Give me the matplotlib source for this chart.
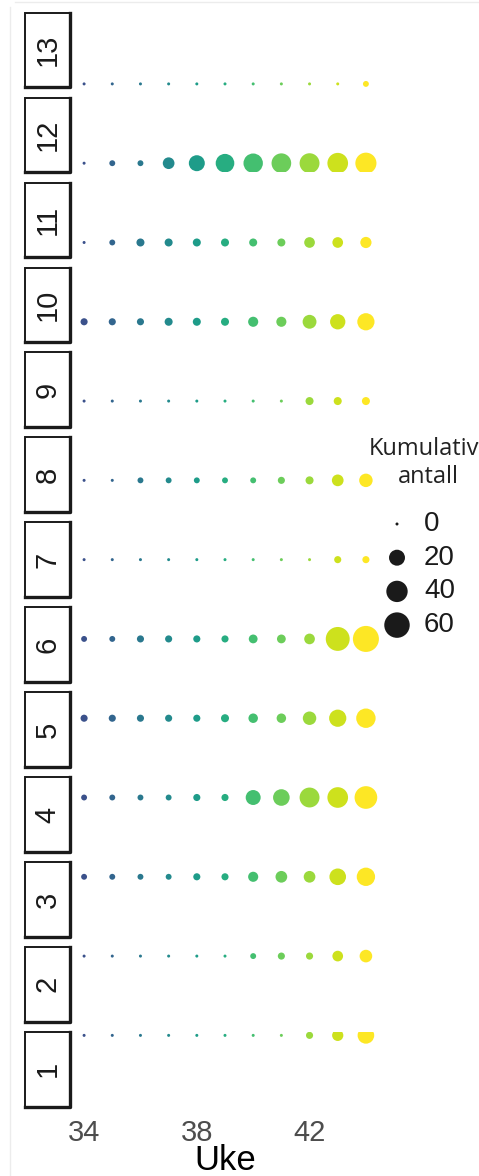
"""Cumulative count per region and week, one facet row per region."""

import matplotlib
matplotlib.use("Agg")
import matplotlib.pyplot as plt
import numpy as np
from matplotlib.colors import Normalize
from matplotlib.lines import Line2D
from matplotlib.patches import Rectangle

# ---- data ----------------------------------------------------------------
weeks = [34, 35, 36, 37, 38, 39, 40, 41, 42, 43, 44]
regions = [13, 12, 11, 10, 9, 8, 7, 6, 5, 4, 3, 2, 1]

cum_13 = [0, 0, 0, 0, 0, 0, 0, 0, 0, 0, 1]
cum_12 = [0, 1, 1, 9, 20, 29, 32, 33, 34, 37, 39]
cum_11 = [0, 1, 3, 3, 3, 3, 3, 3, 7, 7, 8]
cum_10 = [2, 2, 2, 3, 3, 3, 6, 6, 14, 18, 24]
cum_9 = [0, 0, 0, 0, 0, 0, 0, 0, 3, 3, 3]
cum_8 = [0, 0, 1, 1, 1, 1, 1, 2, 3, 9, 13]
cum_7 = [0, 0, 0, 0, 0, 0, 0, 0, 0, 2, 2]
cum_6 = [1, 1, 2, 2, 2, 2, 4, 4, 7, 52, 63]
cum_5 = [2, 2, 2, 2, 2, 3, 5, 5, 13, 24, 32]
cum_4 = [1, 1, 1, 1, 2, 2, 17, 22, 34, 37, 46]
cum_3 = [1, 1, 1, 1, 2, 2, 6, 9, 9, 22, 28]
cum_2 = [0, 0, 0, 0, 0, 0, 1, 2, 2, 7, 11]
cum_1 = [0, 0, 0, 0, 0, 0, 0, 0, 2, 8, 22]

cum_by_region = {13: cum_13, 12: cum_12, 11: cum_11, 10: cum_10, 9: cum_9,
                 8: cum_8, 7: cum_7, 6: cum_6, 5: cum_5, 4: cum_4, 3: cum_3,
                 2: cum_2, 1: cum_1}

x_ticks = [34, 38, 42]
size_breaks = [0, 20, 40, 60]
legend_title = "Kumulativt\nantall"
x_title = "Uke"

# ---- style ---------------------------------------------------------------
W, H, DPI = 479, 1176, 100
plt.rcParams["font.family"] = ["Liberation Sans", "DejaVu Sans"]
cmap = plt.get_cmap("viridis")
norm = Normalize(vmin=30.7, vmax=44)


def size_of(v):
    """Marker area (pt^2): diameter grows with sqrt of the count."""
    d_px = 3.0 + 2.9 * np.sqrt(np.asarray(v, dtype=float))
    return (d_px * 72.0 / DPI) ** 2


def px_rect(x0, y0, w, h):
    return [x0 / W, 1 - (y0 + h) / H, w / W, h / H]


fig = plt.figure(figsize=(W / DPI, H / DPI), dpi=DPI)
fig.patch.set_facecolor("white")

# faint screenshot border
fig.add_artist(Line2D([15 / W, 1], [1 - 1.5 / H] * 2, color="#ECECEC", lw=1))
fig.add_artist(Line2D([10 / W] * 2, [0, 1 - 7 / H], color="#ECECEC", lw=1))

panel_left, panel_right = 70, 380
panel_h, panel_step, first_top = 74.6, 84.94, 12.7
strip_left = 25

bottom_ax = None
for i, reg in enumerate(regions):
    top = first_top + i * panel_step
    ax = fig.add_axes(px_rect(panel_left, top, panel_right - panel_left,
                              panel_h))
    vals = cum_by_region[reg]
    ax.scatter(weeks, [reg] * len(weeks), s=size_of(vals), c=weeks,
               cmap=cmap, norm=norm, linewidths=0, zorder=3)
    ax.set_xlim(33.5, 44.5)
    ax.set_ylim(13.6, 0.4)
    for sp in ax.spines.values():
        sp.set_visible(False)
    ax.set_yticks([])
    ax.set_xticks([])
    ax.patch.set_alpha(0)

    # strip on the left, heavier right/bottom edge like the screenshot
    sax = fig.add_axes(px_rect(strip_left, top, panel_left - strip_left,
                               panel_h))
    sax.set_axis_off()
    sax.add_patch(Rectangle((0, 0), 1, 1, transform=sax.transAxes,
                            facecolor="white", edgecolor="#1A1A1A",
                            lw=1.4, clip_on=False))
    sax.plot([0, 1, 1], [0, 0, 1], transform=sax.transAxes, color="#1A1A1A",
             lw=2.4, clip_on=False, solid_capstyle="projecting")
    sax.text(0.5, 0.5, str(reg), rotation=90, ha="center", va="center",
             fontsize=21, color="#1A1A1A", transform=sax.transAxes)
    bottom_ax = ax

bottom_ax.set_xticks(x_ticks)
bottom_ax.tick_params(axis="x", length=0, pad=9, labelsize=21,
                      labelcolor="#4D4D4D")

fig.text(225 / W, 1 - 1160 / H, x_title, ha="center", va="center",
         fontsize=25, color="black")

# ---- size legend -----------------------------------------------------------
fig.text(428 / W, 1 - 463 / H, legend_title, ha="center", va="center",
         fontsize=17, color="#222222", family=["Open Sans", "DejaVu Sans"],
         linespacing=1.2)

lax = fig.add_axes(px_rect(380, 505, 99, 140))
lax.set_xlim(0, 99)
lax.set_ylim(140, 0)
lax.set_axis_off()
row_y = 19 + 33.7 * np.arange(len(size_breaks))
lax.scatter([17] * len(size_breaks), row_y, s=size_of(size_breaks),
            color="#1A1A1A", linewidths=0, clip_on=False)
for y, b in zip(row_y, size_breaks):
    lax.text(44, y, str(b), ha="left", va="center", fontsize=20,
             color="#1A1A1A")

fig.savefig("out.png", dpi=DPI, facecolor="white")
